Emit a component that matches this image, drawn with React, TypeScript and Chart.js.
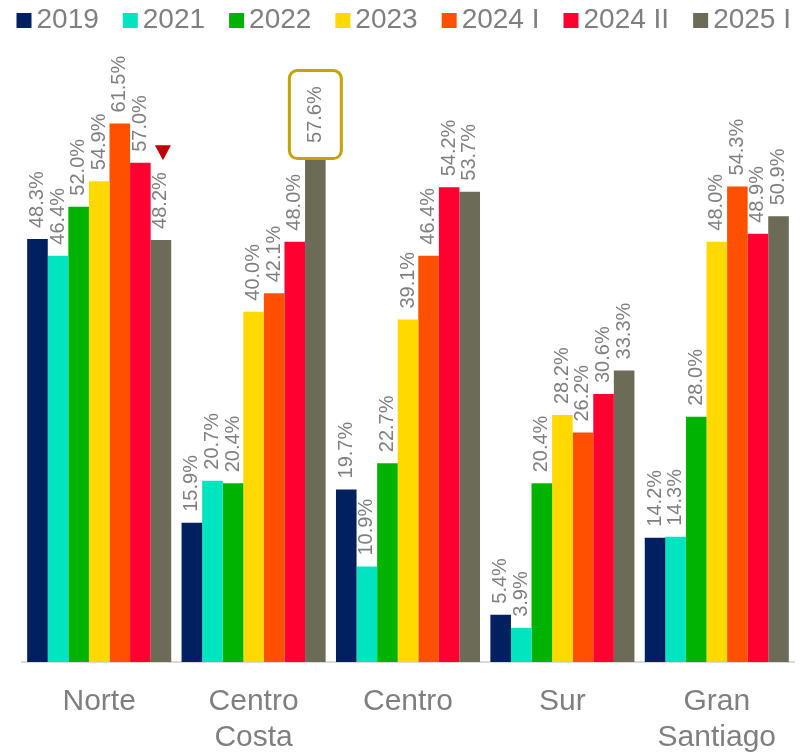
import React, { useEffect, useRef } from 'react';
import { Chart, registerables } from 'chart.js';

Chart.register(...registerables);

const categories = [['Norte'], ['Centro', 'Costa'], ['Centro'], ['Sur'], ['Gran', 'Santiago']];
const seriesNames = ['2019', '2021', '2022', '2023', '2024 I', '2024 II', '2025 I'];
const v2019 = [48.3, 15.9, 19.7, 5.4, 14.2];
const v2021 = [46.4, 20.7, 10.9, 3.9, 14.3];
const v2022 = [52.0, 20.4, 22.7, 20.4, 28.0];
const v2023 = [54.9, 40.0, 39.1, 28.2, 48.0];
const v2024I = [61.5, 42.1, 46.4, 26.2, 54.3];
const v2024II = [57.0, 48.0, 54.2, 30.6, 48.9];
const v2025I = [48.2, 57.6, 53.7, 33.3, 50.9];
const seriesValues = [v2019, v2021, v2022, v2023, v2024I, v2024II, v2025I];
const seriesColors = ['#002060', '#00E5BF', '#00B300', '#FFD900', '#FF5000', '#FF0030', '#6B6B58'];

// which point gets the framed label, and which gets the down-arrow marker
const boxedPoint = { series: 6, index: 1 };
const markedPoint = { series: 6, index: 0 };

const FONT = "'Liberation Sans', Arial, sans-serif";
const TEXT_GRAY = '#7F7F7F';

const legendPlugin = {
  id: 'customLegend',
  afterDraw(chart: any) {
    const ctx = chart.ctx;
    ctx.save();
    ctx.font = `28px ${FONT}`;
    ctx.textBaseline = 'middle';
    ctx.textAlign = 'left';
    let x = 16.5;
    const boxSize = 15;
    const boxTop = 13;
    const textY = 20;
    chart.data.datasets.forEach((ds: any) => {
      ctx.fillStyle = ds.backgroundColor;
      ctx.fillRect(x, boxTop, boxSize, boxSize);
      x += boxSize + 5;
      ctx.fillStyle = TEXT_GRAY;
      ctx.fillText(ds.label, x, textY);
      x += ctx.measureText(ds.label).width + 24;
    });
    ctx.restore();
  },
};

const labelsPlugin = {
  id: 'barLabels',
  afterDatasetsDraw(chart: any) {
    const ctx = chart.ctx;
    ctx.save();
    ctx.font = `20px ${FONT}`;
    ctx.fillStyle = TEXT_GRAY;
    chart.data.datasets.forEach((ds: any, si: number) => {
      const meta = chart.getDatasetMeta(si);
      meta.data.forEach((bar: any, i: number) => {
        const text = Number(ds.data[i]).toFixed(1) + '%';
        if (si === boxedPoint.series && i === boxedPoint.index) {
          const w = 52;
          const h = 88;
          const bottom = bar.y + 1;
          const top = bottom - h;
          const left = bar.x - w / 2;
          ctx.save();
          ctx.strokeStyle = '#C4A400';
          ctx.lineWidth = 3;
          ctx.beginPath();
          ctx.roundRect(left, top, w, h, 8);
          ctx.fillStyle = '#FFFFFF';
          ctx.fill();
          ctx.stroke();
          ctx.restore();
          ctx.save();
          ctx.translate(bar.x, (top + bottom) / 2);
          ctx.rotate(-Math.PI / 2);
          ctx.textAlign = 'center';
          ctx.textBaseline = 'middle';
          ctx.fillText(text, 0, 0);
          ctx.restore();
          return;
        }
        const offset = 11;
        ctx.save();
        ctx.translate(bar.x, bar.y - offset);
        ctx.rotate(-Math.PI / 2);
        ctx.textAlign = 'left';
        ctx.textBaseline = 'middle';
        ctx.fillText(text, 0, 0);
        const tw = ctx.measureText(text).width;
        ctx.restore();
        if (si === markedPoint.series && i === markedPoint.index) {
          const tipY = bar.y - offset - tw - 12;
          const cx = bar.x + 2;
          ctx.save();
          ctx.fillStyle = '#C00000';
          ctx.beginPath();
          ctx.moveTo(cx - 8, tipY - 15);
          ctx.lineTo(cx + 8, tipY - 15);
          ctx.lineTo(cx, tipY);
          ctx.closePath();
          ctx.fill();
          ctx.restore();
        }
      });
    });
    ctx.restore();
  },
};

export default function App() {
  const canvasRef = useRef<HTMLCanvasElement | null>(null);

  useEffect(() => {
    document.body.style.margin = '0';
    const canvas = canvasRef.current;
    if (!canvas) return;
    const chart = new Chart(canvas, {
      type: 'bar',
      data: {
        labels: categories,
        datasets: seriesNames.map((name, k) => ({
          label: name,
          data: seriesValues[k],
          backgroundColor: seriesColors[k],
          borderWidth: 0,
          categoryPercentage: 0.933,
          barPercentage: 1.0,
        })),
      },
      options: {
        animation: false,
        responsive: true,
        maintainAspectRatio: false,
        layout: { padding: { top: 49, left: 22, right: 15, bottom: 0 } },
        plugins: {
          legend: { display: false },
          tooltip: { enabled: false },
        },
        scales: {
          x: {
            grid: { display: false, drawTicks: false },
            border: { display: true, color: '#D9D9D9', width: 2 },
            ticks: {
              color: TEXT_GRAY,
              font: { family: FONT, size: 30, lineHeight: 36 / 30 },
              padding: 22,
              maxRotation: 0,
              autoSkip: false,
            },
            afterFit: (scale: any) => {
              scale.height = 92;
            },
          },
          y: {
            display: false,
            min: 0,
            max: 70,
          },
        },
      },
      plugins: [labelsPlugin, legendPlugin],
    });
    return () => chart.destroy();
  }, []);

  return (
    <div style={{ width: 809, height: 754, position: 'relative', background: '#FFFFFF' }}>
      <canvas ref={canvasRef} />
    </div>
  );
}
